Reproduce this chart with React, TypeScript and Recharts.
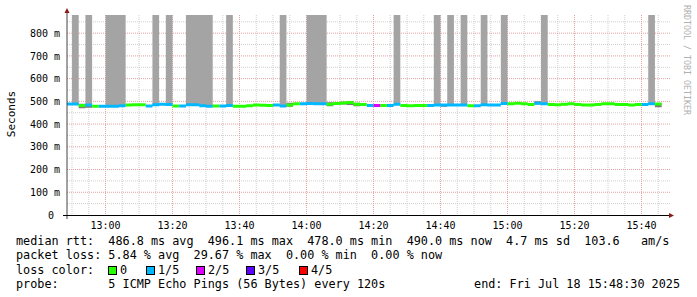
import React from "react";
import { ComposedChart, Area, XAxis, YAxis, CartesianGrid } from "recharts";

// minutes after 12:00; first 2-minute step starts at 12:48
const firstStep = 48;
const medians = [
  488, 488, 482, 484, 479, 479, 479, 479, 481, 484, 485, 485, 480, 485, 487, 486,
  480, 480, 485, 485, 481, 478, 480, 480, 482, 479, 479, 481, 484, 483, 482, 484,
  480, 484, 490, 490, 491, 490, 490, 487, 491, 493, 495, 487, 486, 482, 482, 482,
  482, 487, 482, 481, 482, 482, 482, 484, 484, 484, 484, 484, 481, 481, 485, 484,
  484, 491, 489, 492, 490, 486, 492, 489, 486, 485, 487, 490, 486, 484, 484, 486,
  490, 490, 486, 486, 484, 486, 486, 489, 488,
];
// lost pings out of 5
const lossCounts = [
  1, 1, 0, 1, 0, 1, 1, 1, 1, 0, 0, 0, 1, 1, 1, 1,
  0, 1, 1, 1, 1, 1, 0, 1, 1, 0, 0, 0, 0, 0, 0, 1,
  1, 0, 0, 1, 1, 1, 1, 0, 0, 0, 0, 0, 0, 1, 2, 0,
  1, 1, 0, 0, 0, 0, 1, 1, 1, 1, 1, 1, 0, 1, 1, 1,
  1, 1, 0, 0, 0, 0, 1, 1, 0, 0, 0, 0, 0, 0, 0, 0,
  0, 0, 0, 0, 0, 0, 1, 1, 0,
];
// steps where the smoke runs off the top of the graph
const spikeSteps = [1, 3, 6, 7, 8, 13, 15, 18, 19, 20, 21, 24, 32, 36, 37, 38, 49, 55, 57, 59, 62, 65, 71, 87];
const smokeSteps = [2, 3, 33, 39, 41, 42, 43, 56, 70, 88];
const smokeLow = [470, 472, 476, 478, 486, 484, 478, 476, 486, 474];
const smokeHigh = [490, 484, 494, 496, 498, 502, 494, 488, 500, 492];

const timeTicks = [60, 80, 100, 120, 140, 160, 180, 200, 220];
const minorTimes = [50, 55, 65, 70, 75, 85, 90, 95, 105, 110, 115, 125, 130, 135, 145, 150, 155, 165, 170, 175, 185, 190, 195, 205, 210, 215, 225];
const valueTicks = [0, 100, 200, 300, 400, 500, 600, 700, 800];
const majorValues = [100, 200, 300, 400, 500, 600, 700, 800];
const minorValues = [50, 150, 250, 350, 450, 550, 650, 750, 850];

const lossColors = ["#26ff00", "#00b8ff", "#dd00ff", "#5e00ff", "#ff0000"];
const lossLabels = ["0", "1/5", "2/5", "3/5", "4/5"];
const legendLines = [
  "median rtt:  486.8 ms avg  496.1 ms max  478.0 ms min  490.0 ms now  4.7 ms sd  103.6   am/s",
  "packet loss: 5.84 % avg  29.67 % max  0.00 % min  0.00 % now",
];
const probeText = "probe:       5 ICMP Echo Pings (56 Bytes) every 120s";
const endText = "end: Fri Jul 18 15:48:30 2025";

const TOP = 880;
const X0 = 48.5;
const X1 = 228.5;
const HALF = 6.6;

// one point per step start, plus a closing point at the end of the last step
const data = [...medians, medians[medians.length - 1]].map((_, k) => {
  const i = Math.min(k, medians.length - 1);
  const m = medians[i];
  const s = smokeSteps.indexOf(i);
  const row: any = {
    t: firstStep + 2 * k,
    smoke: s >= 0 ? [smokeLow[s], smokeHigh[s]] : [m, m],
    spike: spikeSteps.includes(i) ? [m, TOP] : [m, m],
  };
  lossColors.forEach((_, c) => {
    row[`loss${c}`] = lossCounts[i] === c ? [m - HALF, m + HALF] : [m, m];
  });
  return row;
});

const mono = "'DejaVu Sans Mono', monospace";

const fmtTime = (v: number) => `${Math.floor(v / 60) + 12}:${String(v % 60).padStart(2, "0")}`;

const YTick = ({ x, y, payload }: any) => (
  <text x={payload.value === 0 ? x - 6 : x} y={y} dy={3.6} textAnchor="end" fontFamily={mono} fontSize={10} fill="#000">
    {payload.value === 0 ? "0" : `${payload.value} m`}
  </text>
);

const XTick = ({ x, y, payload }: any) => (
  <text x={x} y={y} dy={13.6} textAnchor="middle" fontFamily={mono} fontSize={10} fill="#000">
    {fmtTime(payload.value)}
  </text>
);

// use the axis scale when the grid gets one, otherwise map through the plot box
const applyScale = (axis: any, v: number, fallback: number) => {
  const s = axis && axis.scale;
  if (typeof s === "function") return s(v);
  if (s && typeof s.map === "function") return s.map(v);
  return fallback;
};
const hLines = (values: number[]) => ({ yAxis, offset }: any) =>
  values.map((v) => applyScale(yAxis, v, offset.top + offset.height * (1 - v / TOP)));
const vLines = (values: number[]) => ({ xAxis, offset }: any) =>
  values.map((v) => applyScale(xAxis, v, offset.left + (offset.width * (v - X0)) / (X1 - X0)));

const band = (key: string, color: string) => (
  <Area
    key={key}
    dataKey={key}
    type="stepAfter"
    stroke="none"
    fill={color}
    fillOpacity={1}
    dot={false}
    activeDot={false}
    isAnimationActive={false}
  />
);

export default function App() {
  return (
    <div style={{ position: "absolute", left: 0, top: 0, width: 697, height: 297, background: "#fff", overflow: "hidden" }}>
      <ComposedChart width={697} height={297} data={data} margin={{ top: 15, right: 27, left: 0, bottom: 52 }}>
        <CartesianGrid
          stroke="#cfcfcf"
          strokeDasharray="1 1"
          horizontalCoordinatesGenerator={hLines(minorValues)}
          verticalCoordinatesGenerator={vLines(minorTimes)}
        />
        <CartesianGrid
          stroke="#e6a0a0"
          strokeDasharray="1 1"
          horizontalCoordinatesGenerator={hLines(majorValues)}
          verticalCoordinatesGenerator={vLines(timeTicks)}
        />
        <XAxis
          dataKey="t"
          type="number"
          domain={[X0, X1]}
          allowDataOverflow
          ticks={timeTicks}
          interval={0}
          tick={<XTick />}
          tickLine={false}
          tickSize={0}
          tickMargin={0}
          height={30}
          axisLine={false}
        />
        <YAxis
          type="number"
          domain={[0, TOP]}
          allowDataOverflow
          ticks={valueTicks}
          interval={0}
          tick={<YTick />}
          tickLine={false}
          tickSize={0}
          tickMargin={7}
          width={67}
          axisLine={false}
        />
        {band("spike", "#a4a4a4")}
        {band("smoke", "#7a7a7a")}
        {lossColors.map((c, i) => band(`loss${i}`, c))}
      </ComposedChart>

      {/* axes, arrows, unit label and watermark */}
      <svg width={697} height={297} style={{ position: "absolute", left: 0, top: 0, pointerEvents: "none" }}>
        <line x1={67} y1={12} x2={67} y2={219} stroke="#444" strokeWidth={1} />
        <line x1={63} y1={215.5} x2={671} y2={215.5} stroke="#000" strokeWidth={1} />
        <polygon points="64.5,13 69.5,13 67,8" fill="#8b1a1a" />
        <polygon points="669,213 669,218 674,215.5" fill="#8b1a1a" />
        <text x={15} y={114} transform="rotate(-90 15 114)" textAnchor="middle" fontFamily={mono} fontSize={11} fill="#000">
          Seconds
        </text>
        <text x={684} y={5} transform="rotate(90 684 5)" fontFamily={mono} fontSize={8.3} fill="#b0b0b0">
          RRDTOOL / TOBI OETIKER
        </text>
      </svg>

      <div style={{ position: "absolute", left: 16, top: 234, fontFamily: mono, fontSize: 11.8, lineHeight: "14.3px", whiteSpace: "pre", color: "#000" }}>
        {legendLines.map((l) => (
          <div key={l}>{l}</div>
        ))}
        <div style={{ position: "relative", height: 14.3 }}>
          loss color:
          {lossLabels.map((lab, i) => {
            const bx = [92, 130, 180, 230, 283][i];
            return (
              <React.Fragment key={lab}>
                <span style={{ position: "absolute", left: bx, top: 3, width: 7, height: 7, background: lossColors[i], border: "1px solid #000" }} />
                <span style={{ position: "absolute", left: bx + 12, top: 0 }}>{lab}</span>
              </React.Fragment>
            );
          })}
        </div>
        <div>{probeText}</div>
      </div>
      <div style={{ position: "absolute", right: 17, top: 276.9, fontFamily: mono, fontSize: 11.8, lineHeight: "14.3px", whiteSpace: "pre", color: "#000" }}>
        {endText}
      </div>
    </div>
  );
}
